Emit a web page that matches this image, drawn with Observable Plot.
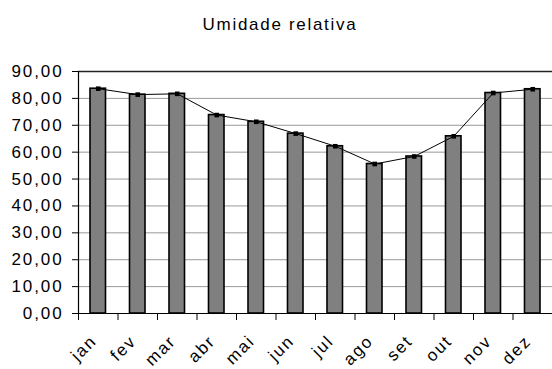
<!DOCTYPE html>
<html>
<head>
<meta charset="utf-8">
<script src="https://cdn.jsdelivr.net/npm/d3@7"></script>
<script src="https://cdn.jsdelivr.net/npm/@observablehq/plot@0.6"></script>
<style>
  body { margin: 0; background: #fff; font-family: "Liberation Sans", Arial, sans-serif; }
  #title { height: 50px; width: 552px; text-align: center; font-size: 17px; letter-spacing: 1.7px; line-height: 17px; box-sizing: border-box; }
  #title span { position: relative; left: 4px; top: 16px; }
</style>
</head>
<body>
<div id="title"><span>Umidade relativa</span></div>
<div id="chart"></div>
<script>
const months = ["jan","fev","mar","abr","mai","jun","jul","ago","set","out","nov","dez"];
const humidity = [83.6, 81.4, 81.7, 73.8, 71.3, 66.9, 62.2, 55.6, 58.4, 65.9, 82.0, 83.4];
const yTicks = [0, 10, 20, 30, 40, 50, 60, 70, 80, 90];
const gridTicks = [10, 20, 30, 40, 50, 60, 70, 80];

const data = months.map((m, i) => ({month: m, i, x1: i, x2: i + 1, xc: i + 0.5, value: humidity[i]}));
const fmt = d => d.toFixed(2).replace(".", ",");

const chart = Plot.plot({
  width: 552,
  height: 319,
  marginTop: 21,
  marginBottom: 56,
  marginLeft: 78,
  marginRight: 0,
  style: {fontFamily: "'Liberation Sans', Arial, sans-serif", fontSize: "17px", color: "#000", letterSpacing: "1.9px", overflow: "visible"},
  x: {type: "linear", domain: [0, 12]},
  y: {type: "linear", domain: [0, 90]},
  marks: [
    Plot.ruleY(gridTicks, {stroke: "#999", strokeWidth: 1}),
    Plot.ruleY([90], {stroke: "#222", strokeWidth: 1.5}),
    Plot.rectY(data, {x1: "x1", x2: "x2", y: "value", insetLeft: 12, insetRight: 12, fill: "#808080", stroke: "#000", strokeWidth: 1.6}),
    Plot.line(data, {x: "xc", y: "value", stroke: "#000", strokeWidth: 1}),
    Plot.dot(data, {x: "xc", y: "value", symbol: "square", r: 2.6, fill: "#000", stroke: "none"}),
    Plot.ruleY([0], {stroke: "#000", strokeWidth: 1.2}),
    Plot.ruleX([0], {stroke: "#000", strokeWidth: 1.2}),
    Plot.axisY({ticks: yTicks, tickSize: 6, tickPadding: 9, tickFormat: fmt, fontSize: 17, stroke: "#000", label: null}),
    Plot.axisX({ticks: d3.range(0, 13), tickSize: 7, tickFormat: () => "", stroke: "#000", label: null}),
    Plot.text(data, {x: "xc", y: () => 0, text: "month", rotate: -45, textAnchor: "end", lineAnchor: "top", dx: -9, dy: 20, fontSize: 17, fill: "#000"})
  ]
});
document.getElementById("chart").appendChild(chart);
</script>
</body>
</html>
